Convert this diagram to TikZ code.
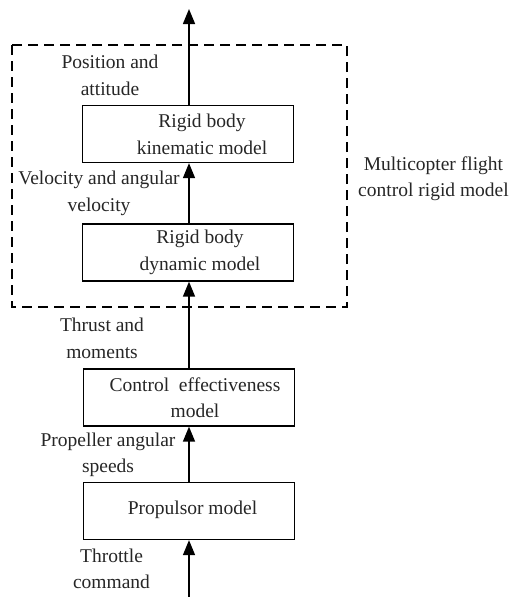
\documentclass[tikz,border=0pt]{standalone}
\usepackage{fontspec}
\setmainfont{Liberation Serif}
\usetikzlibrary{arrows.meta,calc}
\begin{document}
\begin{tikzpicture}[x=1pt,y=-1pt,
  block/.style={draw,line width=1.3pt,minimum width=211pt,minimum height=57pt,inner sep=0pt},
  txt/.style={align=center,inner sep=0pt,text=black!85,font=\fontsize{19.5}{26.5}\selectfont},
  flow/.style={line width=1.5pt,-{Triangle[length=15pt,width=12pt]}},
  frame/.style={draw,line width=1.3pt,dash pattern=on 10pt off 6pt}]
\useasboundingbox (0,0) rectangle (513,597);
% outer dashed frame
\draw[frame] (12,45) rectangle (347,307);
% blocks
\node[block] (kin) at (188,134) {};
\node[block] (dyn) at (188,252.5) {};
\node[block] (eff) at (189,397.5) {};
\node[block] (pro) at (189,511) {};
\node[txt] (kint) at (202,134.5) {Rigid body\\kinematic model};
\node[txt] (dynt) at (200,252.5) {Rigid body\\dynamic model};
\node[txt] (efft) at (195,397.5) {Control\ \ effectiveness\\model};
\node[txt] (prot) at (192.5,510) {Propulsor model};
% signal labels
\node[txt] (pos) at (110,75.5) {Position and\\attitude};
\node[txt] (vel) at (99,193.5) {Velocity and angular\\velocity};
\node[txt] (thr) at (102,338.5) {Thrust and\\moments};
\node[txt] (prop) at (108,455) {Propeller angular\\speeds};
\node[txt] (thc) at (111.5,569) {Throttle\\command};
\node[txt] (mc) at (433.5,178.5) {Multicopter flight\\control rigid model};
% connectors
\coordinate (out) at (189,9);
\coordinate (in) at (189,597);
\draw[flow] (kin.north -| out) -- (out);
\draw[flow] (dyn.north -| out) -- (kin.south -| out);
\draw[flow] (eff.north -| out) -- (dyn.south -| out);
\draw[flow] (pro.north -| out) -- (eff.south -| out);
\draw[flow] (in) -- (pro.south -| out);
\end{tikzpicture}
\end{document}
